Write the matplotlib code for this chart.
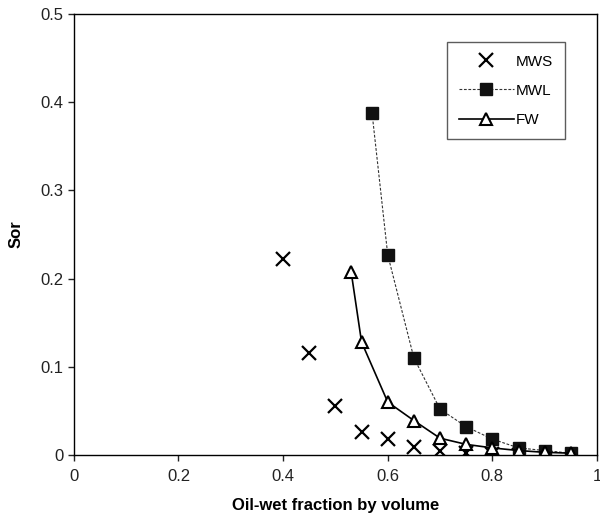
import matplotlib
matplotlib.use("Agg")
import matplotlib.pyplot as plt

plt.rcParams['font.family'] = ['Liberation Sans', 'DejaVu Sans']

# residual oil saturation vs oil-wet fraction
mws_x = [0.40, 0.45, 0.50, 0.55, 0.60, 0.65, 0.70, 0.75, 0.80, 0.85]
mws_y = [0.222, 0.116, 0.056, 0.026, 0.018, 0.009, 0.005, 0.002, 0.001, 0.0]

mwl_x = [0.57, 0.60, 0.65, 0.70, 0.75, 0.80, 0.85, 0.90, 0.95]
mwl_y = [0.388, 0.227, 0.110, 0.052, 0.032, 0.018, 0.008, 0.005, 0.002]

fw_x = [0.53, 0.55, 0.60, 0.65, 0.70, 0.75, 0.80, 0.85, 0.90, 0.95]
fw_y = [0.208, 0.128, 0.060, 0.039, 0.019, 0.012, 0.008, 0.005, 0.003, 0.002]

x_ticks = [0, 0.2, 0.4, 0.6, 0.8, 1]
x_labels = ['0', '0.2', '0.4', '0.6', '0.8', '1']
y_ticks = [0, 0.1, 0.2, 0.3, 0.4, 0.5]
y_labels = ['0', '0.1', '0.2', '0.3', '0.4', '0.5']

fig = plt.figure(figsize=(6.0, 5.17), dpi=100)
ax = fig.add_axes([0.123, 0.12, 0.872, 0.853])

ax.plot(mws_x, mws_y, linestyle='none', marker='x', color='black',
        markersize=10, markeredgewidth=1.6, label='MWS')
ax.plot(mwl_x, mwl_y, linestyle=(0, (2.5, 1.5)), linewidth=0.8, color='#333333',
        marker='s', markersize=9, markerfacecolor='#111111',
        markeredgecolor='#111111', label='MWL')
ax.plot(fw_x, fw_y, linestyle='-', linewidth=1.2, color='black',
        marker='^', markersize=8, markerfacecolor='white',
        markeredgecolor='black', markeredgewidth=1.5, label='FW')

ax.set_xlim(0, 1)
ax.set_ylim(0, 0.5)
ax.set_xticks(x_ticks)
ax.set_xticklabels(x_labels)
ax.set_yticks(y_ticks)
ax.set_yticklabels(y_labels)
ax.tick_params(direction='out', length=4, width=1, labelsize=12, colors='#222222')
ax.tick_params(axis='x', pad=6)
for s in ax.spines.values():
    s.set_linewidth(1.0)

ax.set_xlabel('Oil-wet fraction by volume', fontsize=12, fontweight='bold', labelpad=10)
ax.set_ylabel('Sor', fontsize=12, fontweight='bold', labelpad=12)

leg = ax.legend(loc='upper right', bbox_to_anchor=(0.953, 0.953), fontsize=11,
                frameon=True, fancybox=False, edgecolor='#333333',
                handlelength=3.6, labelspacing=1.0, borderpad=0.8,
                handletextpad=0.1)
leg.get_frame().set_linewidth(1.0)

fig.savefig('out.png', dpi=100)
